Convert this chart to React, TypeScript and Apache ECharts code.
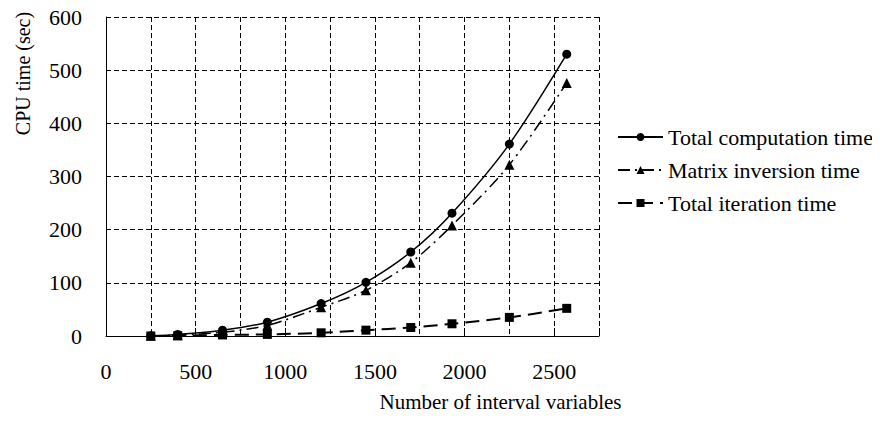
import React, { useEffect, useRef } from "react";
import * as echarts from "echarts";

const xValues = [250, 400, 650, 900, 1200, 1450, 1700, 1930, 2250, 2570];
const totalComputation = [0.5, 3, 11, 26, 61, 101, 158, 231, 361, 530];
const matrixInversion = [0.3, 1.5, 7, 20, 54, 86, 138, 208, 322, 476];
const totalIteration = [0, 0.5, 2, 3, 6, 11, 16, 23, 35, 52];
const seriesNames = ["Total computation time", "Matrix inversion time", "Total iteration time"];

const FONT = "'Liberation Serif', 'Times New Roman', serif";

const pairs = (ys: number[]) => xValues.map((x, i) => [x, ys[i]]);

export default function App() {
  const ref = useRef<HTMLDivElement>(null);
  useEffect(() => {
    if (!ref.current) return;
    const chart = echarts.init(ref.current, undefined, { renderer: "svg" });
    const dashed = { type: [5, 3] as number[], color: "#000", width: 1 };
    chart.setOption({
      animation: false,
      backgroundColor: "#fff",
      textStyle: { fontFamily: FONT, color: "#000" },
      grid: { left: 106, right: 281, top: 17, bottom: 89, containLabel: false },
      legend: {
        orient: "vertical",
        left: 612,
        top: 121,
        itemWidth: 45,
        itemHeight: 10,
        itemGap: 11,
        textStyle: { fontFamily: FONT, fontSize: 22, color: "#000" },
        data: seriesNames,
      },
      xAxis: [
        {
          type: "value",
          min: 0,
          max: 2750,
          interval: 250,
          name: "Number of interval variables",
          nameLocation: "middle",
          nameGap: 55,
          nameTextStyle: { fontFamily: FONT, fontSize: 21, color: "#000", padding: [0, 0, 0, 296] },
          axisLine: { show: true, lineStyle: { color: "#000", width: 1 } },
          axisTick: { show: false },
          axisLabel: {
            margin: 24,
            fontFamily: FONT,
            fontSize: 22,
            color: "#000",
            formatter: (v: number) => (v % 500 === 0 && v <= 2500 ? String(v) : ""),
          },
          splitLine: { show: true, lineStyle: dashed },
        },
        {
          type: "value",
          min: 0,
          max: 2750,
          interval: 500,
          position: "bottom",
          axisLine: { show: false },
          axisLabel: { show: false },
          splitLine: { show: false },
          axisTick: { show: true, inside: true, length: 8, lineStyle: { color: "#000", width: 1 } },
        },
      ],
      yAxis: {
        type: "value",
        min: 0,
        max: 600,
        interval: 100,
        name: "CPU time (sec)",
        nameLocation: "middle",
        nameGap: 73,
        nameTextStyle: { fontFamily: FONT, fontSize: 20, color: "#000", padding: [0, 0, 0, 206] },
        axisLine: { show: true, lineStyle: { color: "#000", width: 1 } },
        axisTick: { show: false },
        axisLabel: { margin: 24, fontFamily: FONT, fontSize: 22, color: "#000" },
        splitLine: { show: true, lineStyle: dashed },
      },
      series: [
        {
          name: seriesNames[0],
          type: "line",
          data: pairs(totalComputation),
          smooth: 0.3,
          symbol: "circle",
          symbolSize: 9,
          itemStyle: { color: "#000" },
          lineStyle: { color: "#000", width: 1.5, type: "solid" },
        },
        {
          name: seriesNames[1],
          type: "line",
          data: pairs(matrixInversion),
          smooth: 0.3,
          symbol: "triangle",
          symbolSize: 10,
          itemStyle: { color: "#000" },
          lineStyle: { color: "#000", width: 1.5, type: [12, 5, 2, 5] },
        },
        {
          name: seriesNames[2],
          type: "line",
          data: pairs(totalIteration),
          smooth: 0.3,
          symbol: "rect",
          symbolSize: 9,
          itemStyle: { color: "#000" },
          lineStyle: { color: "#000", width: 2, type: [14, 7] },
        },
      ],
    });
    return () => chart.dispose();
  }, []);
  return <div ref={ref} style={{ width: 880, height: 425, margin: -8 }} />;
}
